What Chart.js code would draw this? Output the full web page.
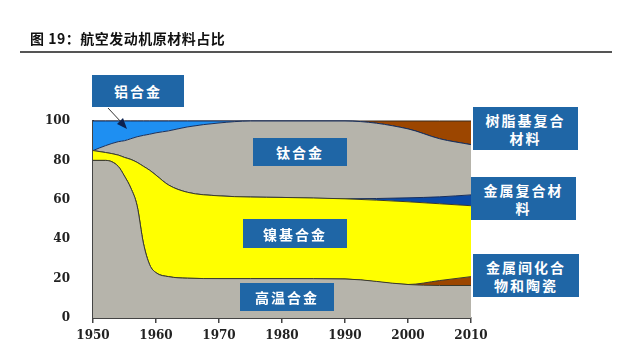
<!DOCTYPE html>
<html>
<head>
<meta charset="utf-8">
<script src="https://cdn.jsdelivr.net/npm/chart.js@4.4.1/dist/chart.umd.min.js"></script>
<style>
  html, body { margin: 0; padding: 0; background: #fff; }
  #wrap { position: relative; width: 641px; height: 362px; overflow: hidden; font-family: "Noto Sans CJK SC", sans-serif; }
  #chart { position: absolute; left: 0; top: 0; }
  .title { position: absolute; left: 30px; top: 28px; font-size: 14px; font-weight: bold; color: #111; letter-spacing: 0.5px; }
  .rule { position: absolute; left: 20px; top: 51px; width: 592px; height: 2px; background: #555; }
  .tag { position: absolute; background: #1f66a6; color: #fff; font-size: 14px; font-weight: bold;
         display: flex; align-items: center; justify-content: center; text-align: center; line-height: 18px; letter-spacing: 2px; }
  svg { position: absolute; left: 0; top: 0; }
</style>
</head>
<body>
<div id="wrap">
  <canvas id="chart" width="641" height="362"></canvas>
  <div class="title">图 19：航空发动机原材料占比</div>
  <div class="rule"></div>
  <svg width="641" height="362">
    <line x1="108" y1="108" x2="122" y2="123" stroke="#333" stroke-width="1"/>
    <polygon points="127,129 117,124 123,118" fill="#0d2250"/>
  </svg>
  <div class="tag" style="left:92px;top:75px;width:92px;height:32px">铝合金</div>
  <div class="tag" style="left:253px;top:138px;width:94px;height:28px">钛合金</div>
  <div class="tag" style="left:243px;top:219px;width:104px;height:29px">镍基合金</div>
  <div class="tag" style="left:240px;top:283px;width:94px;height:28px">高温合金</div>
  <div class="tag" style="left:473px;top:107px;width:105px;height:43px">树脂基复合<br>材料</div>
  <div class="tag" style="left:471px;top:177px;width:105px;height:43px">金属复合材<br>料</div>
  <div class="tag" style="left:473px;top:254px;width:106px;height:43px">金属间化合<br>物和陶瓷</div>
</div>
<script>
// 年份与各材料占比（%），自下而上堆叠
const years      = [1950, 1952, 1954, 1955, 1956, 1957, 1958, 1959, 1960, 1962, 1965, 1970, 1975, 1980, 1990, 2000, 2005, 2010];
const superalloy = [80, 80, 77, 72, 66, 57, 38, 27, 23, 21, 20.2, 20, 20, 20, 19.8, 17, 16.5, 16.5];
const ceramics   = [0, 0, 0, 0, 0, 0, 0, 0, 0, 0, 0, 0, 0, 0, 0, 0, 2.5, 4.5];
const nickel     = [5, 4, 5.7, 9.5, 14.5, 22, 39, 48, 49.5, 46.5, 43.6, 42, 41.4, 41.2, 40.7, 42, 39, 36];
const metalComp  = [0, 0, 0, 0, 0, 0, 0, 0, 0, 0, 0, 0, 0, 0, 0, 2, 3.5, 5.5];
const titanium   = [0, 3.5, 6.8, 8.5, 10.5, 13, 15.7, 18.3, 21.5, 27.5, 33.2, 37, 38.6, 38.8, 39.5, 35, 29.5, 25.5];
const aluminum   = [15, 12.5, 10.5, 10, 9, 8, 7.3, 6.7, 6, 5, 3, 1, 0, 0, 0, 0, 0, 0];
const resin      = [0, 0, 0, 0, 0, 0, 0, 0, 0, 0, 0, 0, 0, 0, 0, 4, 9, 12];
const yTicks     = [0, 20, 40, 60, 80, 100];

const pts = arr => years.map((x, i) => ({ x, y: arr[i] }));
const layer = (label, arr, color, edge, first) => ({
  label, data: pts(arr), backgroundColor: color, borderColor: edge, borderWidth: 1,
  fill: first ? "origin" : "-1", pointRadius: 0, cubicInterpolationMode: "monotone", clip: 3
});

new Chart(document.getElementById("chart"), {
  type: "line",
  data: {
    datasets: [
      layer("高温合金", superalloy, "#b6b4ab", "#3a3a2c", true),
      layer("金属间化合物和陶瓷", ceramics, "#9c4600", "#3a3a2c"),
      layer("镍基合金", nickel, "#ffff00", "#3a3a2c"),
      layer("金属复合材料", metalComp, "#0c4aa6", "#1a2f5a"),
      layer("钛合金", titanium, "#b6b4ab", "#1a2f5a"),
      layer("铝合金", aluminum, "#1e8ff2", "#1a2f5a"),
      layer("树脂基复合材料", resin, "#9c4600", "#3a2a1a")
    ]
  },
  options: {
    responsive: false,
    animation: false,
    layout: { padding: { left: 0, top: 121, right: 170, bottom: 0 } },
    plugins: { legend: { display: false }, tooltip: { enabled: false } },
    scales: {
      x: {
        type: "linear", min: 1950, max: 2010,
        afterFit: s => { s.height = 44; },
        ticks: { stepSize: 10, padding: 6, color: "#222", callback: v => String(v),
                 font: { family: "DejaVu Serif", size: 12, weight: "bold" } },
        grid: { drawOnChartArea: false, drawTicks: true, tickLength: 5, color: "#444", lineWidth: 1.5 },
        border: { display: true, color: "#444", width: 2 }
      },
      y: {
        stacked: true, min: 0, max: 100,
        afterFit: s => { s.width = 93; },
        afterBuildTicks: s => { s.ticks = yTicks.map(v => ({ value: v })); },
        ticks: { padding: 15, color: "#222", font: { family: "DejaVu Serif", size: 12, weight: "bold" } },
        grid: { display: false },
        border: { display: true, color: "#444", width: 2 }
      }
    }
  }
});
</script>
</body>
</html>
